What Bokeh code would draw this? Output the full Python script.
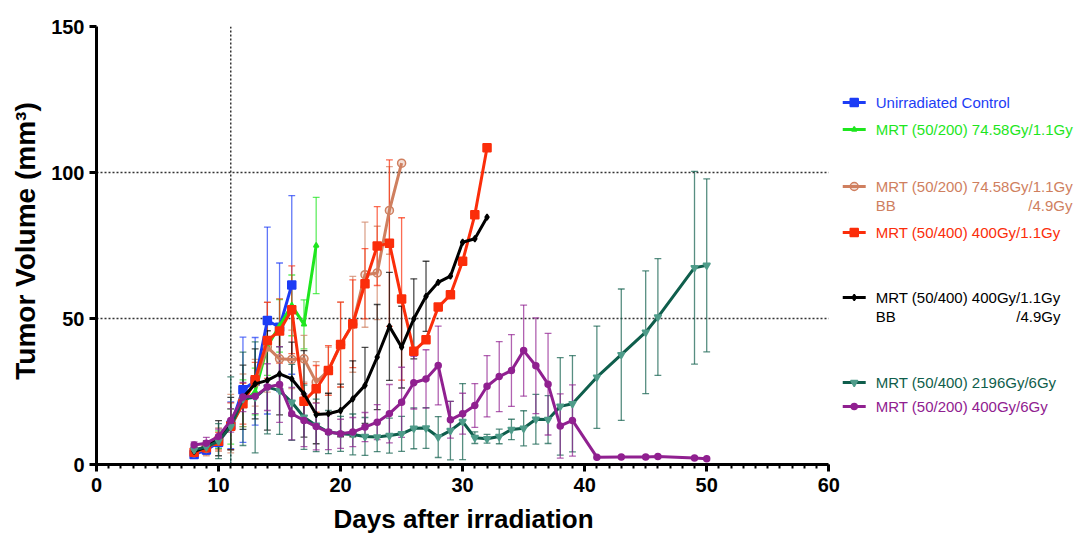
import math
from bokeh.plotting import figure
from bokeh.models import Range1d, FixedTicker, Title
from bokeh.core.properties import value
from bokeh.embed import file_html
from bokeh.resources import INLINE

# ---------------- data ----------------
days_ctrl = [8, 9, 10, 11, 12, 13, 14, 15, 16]
vol_ctrl = [3.4, 5.0, 7.6, 13.4, 25.6, 28.5, 49.3, 47.0, 61.5]
err_ctrl = [1.0, 1.5, 2.0, 8.0, 18.0, 15.0, 32.0, 22.0, 30.6]

days_g = [8, 9, 10, 11, 12, 13, 14, 15, 16, 17, 18]
vol_g = [4.5, 6.0, 8.5, 13.0, 21.0, 25.0, 40.5, 47.5, 54.5, 48.0, 75.0]
err_g = [1.0, 1.5, 3.0, 6.0, 8.0, 8.0, 10.0, 9.0, 10.4, 8.4, 16.5]

days_br = [8, 9, 10, 11, 12, 13, 14, 15, 16, 17, 18, 19, 20, 21, 22, 23, 24, 25]
vol_br = [4.0, 5.5, 8.5, 14.0, 22.0, 28.0, 40.2, 36.2, 36.0, 36.2, 28.2, 32.2,
          41.0, 48.0, 65.0, 65.6, 87.0, 103.2]
err_br = [1.0, 2.5, 4.0, 10.0, 9.0, 8.0, 15.4, 10.0, 10.0, 8.0, 7.0, 8.0,
          14.6, 16.4, 18.0, 16.0, 15.0, 0.0]

days_r = list(range(8, 33))
vol_r = [4.2, 5.7, 8.0, 13.1, 20.8, 29.0, 42.5, 45.7, 53.0, 21.7, 25.9, 32.2,
         41.1, 48.2, 61.9, 74.8, 75.8, 56.7, 38.8, 42.7, 53.9, 58.1, 69.6, 85.5, 108.5]
err_r = [1.0, 2.0, 3.0, 8.0, 7.0, 6.0, 13.0, 11.0, 15.0, 6.0, 8.0, 8.5,
         14.5, 15.0, 12.0, 13.5, 28.5, 27.8, 0, 0, 0, 0, 0, 0, 0]

days_k = list(range(8, 33))
vol_k = [4.5, 6.0, 9.0, 14.0, 23.0, 27.6, 28.8, 31.0, 29.3, 24.2, 17.1, 17.4,
         18.5, 22.5, 27.1, 36.8, 47.3, 40.2, 49.9, 57.6, 62.4, 64.5, 76.1, 77.3, 84.7]
err_k = [1.0, 2.0, 6.0, 9.0, 11.0, 12.0, 17.0, 14.0, 12.6, 14.8, 10.0, 7.0,
         9.0, 13.0, 13.0, 18.0, 18.5, 14.0, 13.7, 12.0, 0, 0, 0, 0, 0]

days_t = list(range(8, 40)) + [41, 43, 45, 46, 49, 50]
vol_t = [5.0, 6.0, 8.0, 13.0, 22.5, 23.0, 26.5, 25.3, 21.3, 16.2, 13.4, 11.1,
         10.5, 10.3, 9.6, 9.4, 9.9, 10.5, 12.4, 12.5, 9.4, 11.6, 14.7, 9.2,
         8.8, 9.6, 12.0, 12.4, 15.5, 15.4, 19.9, 20.8,
         29.9, 37.6, 45.3, 50.5, 67.4, 68.2]
err_t = [1.0, 2.0, 6.0, 17.0, 16.0, 19.0, 16.0, 15.0, 13.0, 11.0, 9.0, 7.4,
         6.0, 7.0, 6.5, 5.0, 6.0, 6.0, 7.0, 7.0, 7.0, 10.0, 13.0, 2.0,
         1.5, 2.5, 3.5, 6.0, 8.5, 8.2, 16.7, 16.5,
         17.5, 22.5, 21.0, 20.0, 33.0, 29.6]

days_p = list(range(8, 40)) + [41, 43, 45, 46, 49, 50]
vol_p = [6.7, 7.3, 9.6, 15.1, 23.1, 23.4, 26.5, 27.4, 17.4, 15.1, 13.0, 11.1,
         10.5, 11.1, 12.8, 14.5, 17.4, 21.3, 28.0, 29.3, 33.9, 15.3, 17.4, 20.2,
         26.8, 30.1, 32.2, 39.0, 33.8, 27.5, 13.2, 15.1,
         2.5, 2.6, 2.6, 2.7, 2.2, 2.0]
err_p = [1.0, 2.0, 2.5, 4.0, 5.0, 6.0, 8.0, 13.0, 9.0, 9.0, 8.0, 6.0,
         5.0, 5.0, 5.0, 6.0, 10.0, 12.0, 9.0, 10.0, 13.5, 6.3, 7.0, 7.5,
         10.5, 12.0, 12.3, 15.6, 16.4, 17.4, 11.0, 12.2,
         0, 0, 0, 0, 0, 0]

x_ticks = [0, 10, 20, 30, 40, 50, 60]
y_ticks = [0, 50, 100, 150]
ref_y = [50, 100]
ref_x = [11]

labels = [
    ["Unirradiated Control"],
    ["MRT (50/200) 74.58Gy/1.1Gy"],
    ["MRT (50/200) 74.58Gy/1.1Gy", "BB", "/4.9Gy"],
    ["MRT (50/400) 400Gy/1.1Gy"],
    ["MRT (50/400) 400Gy/1.1Gy", "BB", "/4.9Gy"],
    ["MRT (50/400) 2196Gy/6Gy"],
    ["MRT (50/200) 400Gy/6Gy"],
]

series = [
    dict(x=days_ctrl, y=vol_ctrl, e=err_ctrl, c="#1c3cf5", mc="#1c3cf5", m="square", s=8, fa=1.0),
    dict(x=days_g, y=vol_g, e=err_g, c="#1ee61e", mc="#1ee61e", m="triangle", s=5, fa=1.0),
    dict(x=days_br, y=vol_br, e=err_br, c="#cf7f5f", mc="#cf7f5f", m="circle", s=8, fa=0.25),
    dict(x=days_r, y=vol_r, e=err_r, c="#fb2d0a", mc="#fb2d0a", m="square", s=8, fa=1.0),
    dict(x=days_k, y=vol_k, e=err_k, c="#000000", mc="#000000", m="diamond", s=6, fa=1.0),
    dict(x=days_t, y=vol_t, e=err_t, c="#0f5e4c", mc="#4f9c8a", m="inverted_triangle", s=7, fa=1.0),
    dict(x=days_p, y=vol_p, e=err_p, c="#902090", mc="#902090", m="circle", s=6, fa=1.0),
]

# ---------------- geometry (canvas pixels) ----------------
W, H = 1076, 541
AX0, AX60 = 95, 828        # px of x=0 and x=60
PY0, PY150 = 464, 26       # px of y=0 and y=150
PXD = (AX60 - AX0) / 60.0
XMAX = (W - AX0) / PXD

def dx(px):
    return (px - AX0) / PXD

def dy(py):
    return (PY0 - py) * 150.0 / (PY0 - PY150)

FONT = "Liberation Sans"

p = figure(width=W, height=H, x_range=Range1d(0, XMAX), y_range=Range1d(0, 150),
           output_backend="svg", toolbar_location=None,
           min_border_left=AX0, min_border_right=0, min_border_top=PY150,
           min_border_bottom=H - PY0)
p.outline_line_color = None
p.grid.visible = False
p.background_fill_color = "white"

# axes
xa = p.xaxis[0]
xa.ticker = FixedTicker(ticks=x_ticks, minor_ticks=list(range(0, 61)))
xa.bounds = (0, 60)
ya = p.yaxis[0]
ya.ticker = FixedTicker(ticks=y_ticks, minor_ticks=[])
for ax in (xa, ya):
    ax.axis_line_width = 3
    ax.axis_line_color = "black"
    ax.major_tick_line_width = 3
    ax.major_tick_out = 7
    ax.major_tick_in = 0
    ax.minor_tick_line_width = 2
    ax.minor_tick_out = 4
    ax.minor_tick_in = 0
    ax.major_label_text_font = FONT
    ax.major_label_text_font_style = "bold"
    ax.major_label_text_font_size = "20px"
    ax.major_label_text_color = "black"
xa.major_label_standoff = 6
ya.major_label_standoff = 5

# axis titles (as border titles so they are not clipped)
p.add_layout(Title(text="Days after irradiation", align="left", offset=237,
                   text_font=FONT, text_font_style="bold", text_font_size="26px",
                   text_color="black", standoff=14), "below")
p.add_layout(Title(text="Tumor Volume  (mm³)", align="right", offset=68,
                   text_font=FONT, text_font_style="bold", text_font_size="28px",
                   text_color="black", standoff=15), "left")

# dotted reference lines
for yv in ref_y:
    p.line([0, 60], [yv, yv], line_dash="2 2", line_width=1.5, line_color="#333333")
for xv in ref_x:
    p.line([xv, xv], [0, 150], line_dash="2 2", line_width=1.5, line_color="#333333")

# error bars
CAP = 0.28
for s in series:
    xs = [x for x, e in zip(s["x"], s["e"]) if e > 0]
    ys = [y for y, e in zip(s["y"], s["e"]) if e > 0]
    es = [e for e in s["e"] if e > 0]
    lo = [y - e for y, e in zip(ys, es)]
    hi = [y + e for y, e in zip(ys, es)]
    p.segment(xs, lo, xs, hi, line_color=s["c"], line_width=1.3, line_alpha=0.7)
    p.segment([x - CAP for x in xs], hi, [x + CAP for x in xs], hi,
              line_color=s["c"], line_width=1.3, line_alpha=0.7)
    p.segment([x - CAP for x in xs], lo, [x + CAP for x in xs], lo,
              line_color=s["c"], line_width=1.3, line_alpha=0.7)

# lines and markers
for s in series:
    p.line(s["x"], s["y"], line_color=s["c"], line_width=3)
    p.scatter(s["x"], s["y"], marker=s["m"], size=s["s"], line_color=s["mc"],
              fill_color=s["mc"], fill_alpha=s["fa"], line_width=1.5)

# legend (drawn in the free area right of the axis bounds)
leg_rows = [102, 129, 186, 232, 297, 382, 406]
LX0, LX1, TX = 842, 865, 875
right_end = {2: 1072, 4: 1060}
for i, (s, lab, py) in enumerate(zip(series, labels, leg_rows)):
    yv = dy(py)
    p.line([dx(LX0), dx(LX1)], [yv, yv], line_color=s["c"], line_width=3)
    p.scatter([dx((LX0 + LX1) / 2)], [yv], marker=s["m"], size=s["s"],
              line_color=s["mc"], fill_color=s["mc"], fill_alpha=s["fa"], line_width=1.5)
    p.text([dx(TX)], [yv], text=[lab[0]], text_color=s["c"], text_font=value(FONT),
           text_font_size="15px", text_baseline="middle", text_align="left")
    if len(lab) == 3:
        y2 = dy(py + 19)
        p.text([dx(TX)], [y2], text=[lab[1]], text_color=s["c"], text_font=value(FONT),
               text_font_size="15px", text_baseline="middle", text_align="left")
        p.text([dx(right_end[i])], [y2], text=[lab[2]], text_color=s["c"], text_font=value(FONT),
               text_font_size="15px", text_baseline="middle", text_align="right")

open("out.html", "w").write(file_html(p, INLINE))
